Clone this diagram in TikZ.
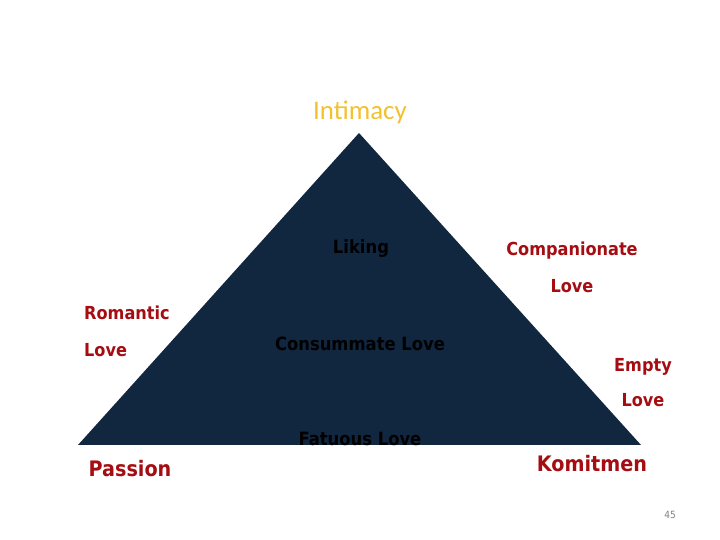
\documentclass[tikz,border=0pt]{standalone}
\usepackage{fontspec}
\setmainfont{DejaVu Sans Condensed}
\newfontfamily\capfont{Carlito}
\usetikzlibrary{positioning}
\definecolor{navy}{HTML}{11263F}
\definecolor{darkred}{HTML}{A50D12}
\definecolor{gold}{HTML}{F2C12E}
\tikzset{corner/.style={text=darkred,font=\bfseries\fontsize{18}{20}\selectfont,anchor=base,inner sep=0pt},
         vertex/.style={corner,font=\bfseries\fontsize{21.4}{24}\selectfont},
         inner/.style={text=black,font=\bfseries\fontsize{18.3}{20}\selectfont,anchor=base,inner sep=0pt},
         apex/.style={text=gold,font=\capfont\fontsize{27}{30}\selectfont,anchor=base,inner sep=0pt}}

\begin{document}
\begin{tikzpicture}[x=1bp,y=1bp]
        \useasboundingbox (0,0) rectangle (720,540);
        \fill[navy] (78,95) -- (641,95) -- (359,407) -- cycle;
        \node[apex](intimacy)at(360,420){Intimacy};
        \node[inner](liking)at(361,286){Liking};
        \node[inner](consummate)at(360,189){Consummate Love};
        \node[inner](fatuous)at(360,94){Fatuous Love};
        \node[corner](companionate)at(572,284){Companionate};
        \node[corner](companionate2)at(572,247){Love};
        \node[corner, anchor=base west](romantic)at(84,220){Romantic};
        \node[corner, anchor=base west](romantic2)at(84,183){Love};
        \node[corner](empty)at(643,168){Empty};
        \node[corner](empty2)at(643,133){Love};
        \node[vertex](passion)at(130,63){Passion};
        \node[vertex](komitmen)at(592,68){Komitmen};
        \node[text=gray,font=\fontsize{10}{12}\selectfont,anchor=base](page)at(670,21){45};
    \end{tikzpicture}
\end{document}
